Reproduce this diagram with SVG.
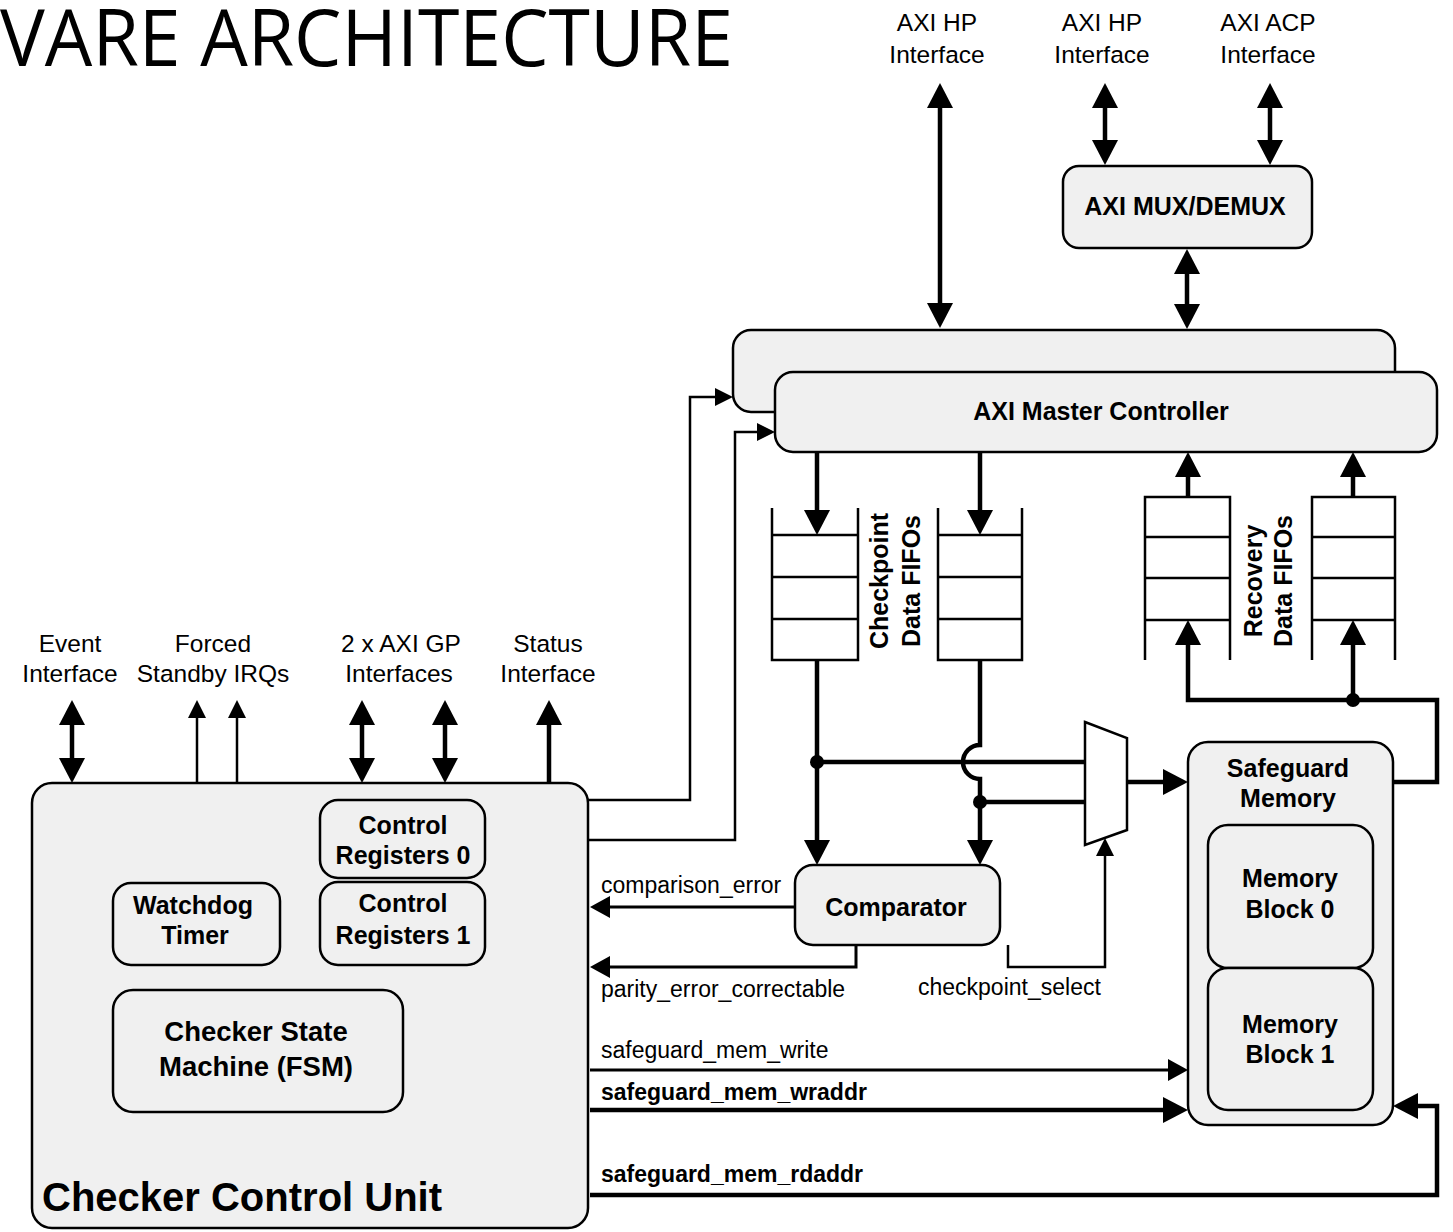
<svg xmlns="http://www.w3.org/2000/svg" width="1453" height="1232" viewBox="0 0 1453 1232">
<style>
.box{fill:#f0f0f0;stroke:#000;stroke-width:2.5}
.lbl{font-family:"Liberation Sans",Arial,sans-serif;font-size:23px;fill:#000}
.if{font-family:"Liberation Sans",Arial,sans-serif;font-size:24.5px;fill:#000}
.b{font-family:"Liberation Sans",Arial,sans-serif;font-size:25px;font-weight:bold;fill:#000}
.bs{font-family:"Liberation Sans",Arial,sans-serif;font-size:23px;font-weight:bold;fill:#000}
.mid{text-anchor:middle}
.thick{fill:none;stroke:#000;stroke-width:4.5}
.thin{fill:none;stroke:#000;stroke-width:2.5}
.med{fill:none;stroke:#000;stroke-width:3}
.fifo{fill:none;stroke:#000;stroke-width:2.5}
</style>
<defs>
<marker id="ah" viewBox="0 0 26 26" markerWidth="26" markerHeight="26" refX="0" refY="13" orient="auto-start-reverse" markerUnits="userSpaceOnUse"><path d="M0,0 L25,13 L0,26 z" fill="#000"/></marker>
<marker id="am" viewBox="0 0 22 22" markerWidth="22" markerHeight="22" refX="0" refY="11" orient="auto-start-reverse" markerUnits="userSpaceOnUse"><path d="M0,0 L20,11 L0,22 z" fill="#000"/></marker>
<marker id="as" viewBox="0 0 18 18" markerWidth="18" markerHeight="18" refX="0" refY="9" orient="auto-start-reverse" markerUnits="userSpaceOnUse"><path d="M0,0 L18,9 L0,18 z" fill="#000"/></marker>
</defs>
<rect width="1453" height="1232" fill="#fff"/>
<text x="0" y="66" font-family="'Open Sans',sans-serif" font-size="78" textLength="733" lengthAdjust="spacingAndGlyphs">VARE ARCHITECTURE</text>

<g id="labels-top">
<text class="if mid" x="937" y="31">AXI HP</text><text class="if mid" x="937" y="63">Interface</text>
<text class="if mid" x="1102" y="31">AXI HP</text><text class="if mid" x="1102" y="63">Interface</text>
<text class="if mid" x="1268" y="31">AXI ACP</text><text class="if mid" x="1268" y="63">Interface</text>
</g>
<g id="labels-left">
<text class="if mid" x="70" y="652">Event</text><text class="if mid" x="70" y="682">Interface</text>
<text class="if mid" x="213" y="652">Forced</text><text class="if mid" x="213" y="682">Standby IRQs</text>
<text class="if mid" x="401" y="652">2 x AXI GP</text><text class="if mid" x="399" y="682">Interfaces</text>
<text class="if mid" x="548" y="652">Status</text><text class="if mid" x="548" y="682">Interface</text>
</g>

<g id="axi-mux">
<rect class="box" x="1063" y="166" width="249" height="82" rx="16"/>
<text class="b mid" x="1185" y="215">AXI MUX/DEMUX</text>
</g>
<g id="axi-master-back">
<rect class="box" x="733" y="330" width="662" height="82" rx="18"/>
</g>
<g id="axi-master">
<rect class="box" x="775" y="372" width="662" height="80" rx="18"/>
<text class="b mid" x="1101" y="420">AXI Master Controller</text>
</g>

<g id="checkpoint-fifo-0">
<path class="fifo" d="M772,508 V660 H858 V508 M772,535 H858 M772,577 H858 M772,619 H858"/>
</g>
<g id="checkpoint-fifo-1">
<path class="fifo" d="M938,508 V660 H1022 V508 M938,535 H1022 M938,577 H1022 M938,619 H1022"/>
</g>
<g id="checkpoint-label">
<text class="b mid" transform="translate(888,581) rotate(-90)">Checkpoint</text>
<text class="b mid" transform="translate(920,581) rotate(-90)">Data FIFOs</text>
</g>
<g id="recovery-fifo-0">
<path class="fifo" d="M1145,660 V497 H1230 V660 M1145,537 H1230 M1145,578 H1230 M1145,620 H1230"/>
</g>
<g id="recovery-fifo-1">
<path class="fifo" d="M1312,660 V497 H1395 V660 M1312,537 H1395 M1312,578 H1395 M1312,620 H1395"/>
</g>
<g id="recovery-label">
<text class="b mid" transform="translate(1262,581) rotate(-90)">Recovery</text>
<text class="b mid" transform="translate(1292,581) rotate(-90)">Data FIFOs</text>
</g>

<g id="mux">
<polygon points="1085,722 1127,738 1127,830 1085,845" fill="#fff" stroke="#000" stroke-width="2.5"/>
</g>

<g id="comparator">
<rect class="box" x="795" y="865" width="205" height="80" rx="18"/>
<text class="b mid" x="896" y="916">Comparator</text>
</g>

<g id="safeguard-memory">
<rect class="box" x="1188" y="742" width="205" height="383" rx="20"/>
<text class="b mid" x="1288" y="777">Safeguard</text>
<text class="b mid" x="1288" y="807">Memory</text>
</g>
<g id="memory-block-0">
<rect class="box" x="1208" y="825" width="165" height="143" rx="20"/>
<text class="b mid" x="1290" y="887">Memory</text>
<text class="b mid" x="1290" y="918">Block 0</text>
</g>
<g id="memory-block-1">
<rect class="box" x="1208" y="968" width="165" height="142" rx="20"/>
<text class="b mid" x="1290" y="1033">Memory</text>
<text class="b mid" x="1290" y="1063">Block 1</text>
</g>

<g id="checker-control-unit">
<rect class="box" x="32" y="783" width="556" height="445" rx="20"/>
<text x="42" y="1211" font-family="'Liberation Sans',Arial,sans-serif" font-size="40" font-weight="bold">Checker Control Unit</text>
</g>
<g id="control-registers-0">
<rect class="box" x="320" y="800" width="165" height="78" rx="18"/>
<text class="b mid" x="403" y="834">Control</text>
<text class="b mid" x="403" y="864">Registers 0</text>
</g>
<g id="control-registers-1">
<rect class="box" x="320" y="882" width="165" height="83" rx="18"/>
<text class="b mid" x="403" y="912">Control</text>
<text class="b mid" x="403" y="944">Registers 1</text>
</g>
<g id="watchdog-timer">
<rect class="box" x="113" y="883" width="167" height="82" rx="18"/>
<text class="b mid" x="193" y="914">Watchdog</text>
<text class="b mid" x="195" y="944">Timer</text>
</g>
<g id="checker-fsm">
<rect class="box" x="113" y="990" width="290" height="122" rx="20"/>
<text class="b mid" x="256" y="1041" style="font-size:27.5px">Checker State</text>
<text class="b mid" x="256" y="1076" style="font-size:27.5px">Machine (FSM)</text>
</g>

<g id="connectors">
<path class="thick" d="M940,108 V303" marker-start="url(#ah)" marker-end="url(#ah)"/>
<path class="thick" d="M1105,108 V140" marker-start="url(#ah)" marker-end="url(#ah)"/>
<path class="thick" d="M1270,108 V140" marker-start="url(#ah)" marker-end="url(#ah)"/>
<path class="thick" d="M1187,274 V304" marker-start="url(#ah)" marker-end="url(#ah)"/>

<path class="thick" d="M72,725 V758" marker-start="url(#ah)" marker-end="url(#ah)"/>
<path class="thin" d="M197,783 V718" marker-end="url(#as)"/>
<path class="thin" d="M237,783 V718" marker-end="url(#as)"/>
<path class="thick" d="M362,725 V758" marker-start="url(#ah)" marker-end="url(#ah)"/>
<path class="thick" d="M445,725 V758" marker-start="url(#ah)" marker-end="url(#ah)"/>
<path class="thick" d="M549,783 V725" marker-end="url(#ah)"/>

<path class="thin" d="M588,800 H690 V397 H715" marker-end="url(#as)"/>
<path class="thin" d="M588,840 H735 V432 H757" marker-end="url(#as)"/>

<path class="thick" d="M817,452 V510" marker-end="url(#ah)"/>
<path class="thick" d="M980,452 V510" marker-end="url(#ah)"/>
<path class="thick" d="M1188,497 V477" marker-end="url(#ah)"/>
<path class="thick" d="M1353,497 V477" marker-end="url(#ah)"/>

<path class="thick" d="M1393,782 H1437 V700 H1188 V645" marker-end="url(#ah)"/>
<path class="thick" d="M1353,700 V645" marker-end="url(#ah)"/>
<circle cx="1353" cy="700" r="7"/>

<path class="thick" d="M817,660 V840" marker-end="url(#ah)"/>
<path class="thick" d="M817,762 H1085"/>
<circle cx="817" cy="762" r="7"/>
<path class="thick" d="M980,660 V745 A17,17 0 0 0 980,779 V840" marker-end="url(#ah)"/>
<path class="thick" d="M980,802 H1085"/>
<circle cx="980" cy="802" r="7"/>
<path class="thick" d="M1127,782 H1163" marker-end="url(#ah)"/>

<path class="thin" d="M1008,945 V967 H1105 V856" marker-end="url(#as)"/>
<path class="med" d="M795,907 H610" marker-end="url(#am)"/>
<path class="med" d="M856,945 V967 H610" marker-end="url(#am)"/>
<path class="med" d="M590,1070 H1168" marker-end="url(#am)"/>
<path class="thick" d="M590,1110 H1163" marker-end="url(#ah)"/>
<path class="thick" d="M590,1195 H1437 V1106 H1418" marker-end="url(#ah)"/>

<text class="lbl" x="601" y="893">comparison_error</text>
<text class="lbl" x="601" y="997">parity_error_correctable</text>
<text class="lbl" x="918" y="995">checkpoint_select</text>
<text class="lbl" x="601" y="1058">safeguard_mem_write</text>
<text class="bs" x="601" y="1100">safeguard_mem_wraddr</text>
<text class="bs" x="601" y="1182">safeguard_mem_rdaddr</text>
</g>
</svg>
